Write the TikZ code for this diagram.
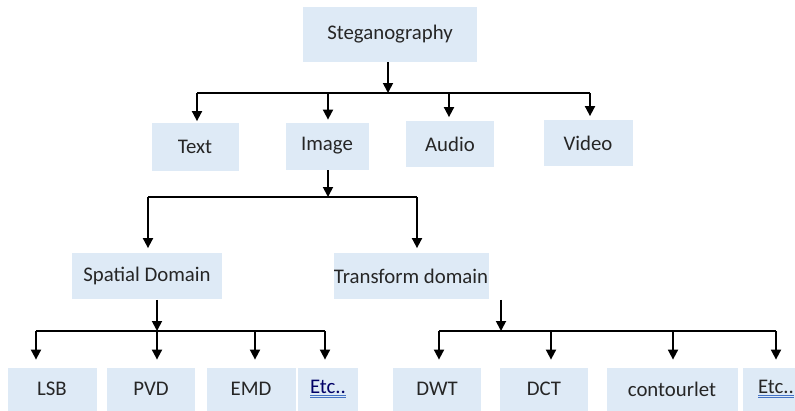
\documentclass[tikz,border=0pt]{standalone}
\usepackage{fontspec}
\setmainfont{Carlito}
\usetikzlibrary{arrows.meta}

\definecolor{boxblue}{HTML}{DEEAF6}
\definecolor{textgray}{HTML}{262626}
\definecolor{linkblue}{HTML}{4472C4}

% blue double underline under a word
\newcommand\spellline[1]{\leavevmode\vtop{\hbox{#1}\kern1.6pt
  {\color{linkblue}\hrule height 1pt}\kern1pt{\color{linkblue}\hrule height .6pt}}}

\begin{document}
\begin{tikzpicture}[x=1pt,y=-1pt,line width=1.8pt,
                    >={Triangle[length=10pt,width=10pt]},
                    box/.style={fill=boxblue,inner sep=0pt,text=textgray,
                                font=\fontsize{20.8}{24}\selectfont},
                    arr/.style={->,shorten >=#1},arr/.default=1pt]
  \clip (0,0) rectangle (795,410);

  \node[box,minimum width=174,minimum height=55] (steg)  at (390,34)  {Steganography};

  \node[box,minimum width=87,minimum height=48]  (text)  at (195,147) {Text};
  \node[box,minimum width=83,minimum height=47]  (image) at (327,146) {Image};
  \node[box,minimum width=88,minimum height=46]  (audio) at (450,144) {Audio};
  \node[box,minimum width=89,minimum height=46]  (video) at (588,143) {Video};

  \node[box,minimum width=150,minimum height=46] (spat)  at (147,276) {Spatial Domain};
  \node[box,minimum width=155,minimum height=46] (trans) at (411,276) {Transform domain};

  \node[box,minimum width=89,minimum height=43]  (lsb)   at (52,389)  {LSB};
  \node[box,minimum width=88,minimum height=43]  (pvd)   at (151,389) {PVD};
  \node[box,minimum width=89,minimum height=43]  (emd)   at (251,389) {EMD};
  \node[box,minimum width=60,minimum height=43]  (etcA)  at (328,389) {\color{blue!40!black}\spellline{Etc..}};

  \node[box,minimum width=88,minimum height=43]  (dwt)   at (437,389) {DWT};
  \node[box,minimum width=88,minimum height=43]  (dct)   at (544,389) {DCT};
  \node[box,minimum width=131,minimum height=43] (cont)  at (672,389) {contourlet};
  \node[box,minimum width=66,minimum height=43]  (etcB)  at (776,389) {\spellline{Etc..}};

  % bus lines
  \coordinate (bus1) at (0,93);
  \coordinate (bus2) at (0,197);
  \coordinate (bus3) at (0,331);

  % level 1
  \draw[arr=0pt] ([xshift=-2]steg.south) -- ([xshift=-2]steg.south |- bus1);
  \draw ([xshift=2]text.north |- bus1) -- ([xshift=2]video.north |- bus1);
  \draw[arr] ([xshift=2]text.north |- bus1)  -- ([xshift=2]text.north);
  \draw[arr=2pt] ([xshift=1]image.north |- bus1) -- ([xshift=1]image.north);
  \draw[arr=3pt] ([xshift=-1]audio.north |- bus1) -- ([xshift=-1]audio.north);
  \draw[arr=3pt] ([xshift=2]video.north |- bus1) -- ([xshift=2]video.north);

  % level 2
  \draw[arr=0pt] ([xshift=1]image.south) -- ([xshift=1]image.south |- bus2);
  \draw ([xshift=1]spat.north |- bus2) -- ([xshift=6]trans.north |- bus2);
  \draw[arr=4pt] ([xshift=1]spat.north |- bus2)  -- ([xshift=1]spat.north);
  \draw[arr=4pt] ([xshift=6]trans.north |- bus2) -- ([xshift=6]trans.north);

  % level 3, spatial
  \draw[arr=0pt] ([xshift=10]spat.south) -- ([xshift=10]spat.south |- bus3);
  \draw ([xshift=-16]lsb.north |- bus3) -- ([xshift=-3]etcA.north |- bus3);
  \draw[arr=7pt] ([xshift=-16]lsb.north |- bus3) -- ([xshift=-16]lsb.north);
  \draw[arr=7pt] ([xshift=6]pvd.north |- bus3)   -- ([xshift=6]pvd.north);
  \draw[arr=7pt] ([xshift=4]emd.north |- bus3)   -- ([xshift=4]emd.north);
  \draw[arr=7pt] ([xshift=-3]etcA.north |- bus3) -- ([xshift=-3]etcA.north);

  % level 3, transform
  \draw[arr=0pt] ([xshift=90]trans.south) -- ([xshift=90]trans.south |- bus3);
  \draw ([xshift=2]dwt.north |- bus3) -- (etcB.north |- bus3);
  \draw[arr=7pt] ([xshift=2]dwt.north |- bus3)   -- ([xshift=2]dwt.north);
  \draw[arr=7pt] ([xshift=7]dct.north |- bus3)   -- ([xshift=7]dct.north);
  \draw[arr=7pt] ([xshift=1]cont.north |- bus3)  -- ([xshift=1]cont.north);
  \draw[arr=7pt] (etcB.north |- bus3) -- (etcB.north);
\end{tikzpicture}
\end{document}
